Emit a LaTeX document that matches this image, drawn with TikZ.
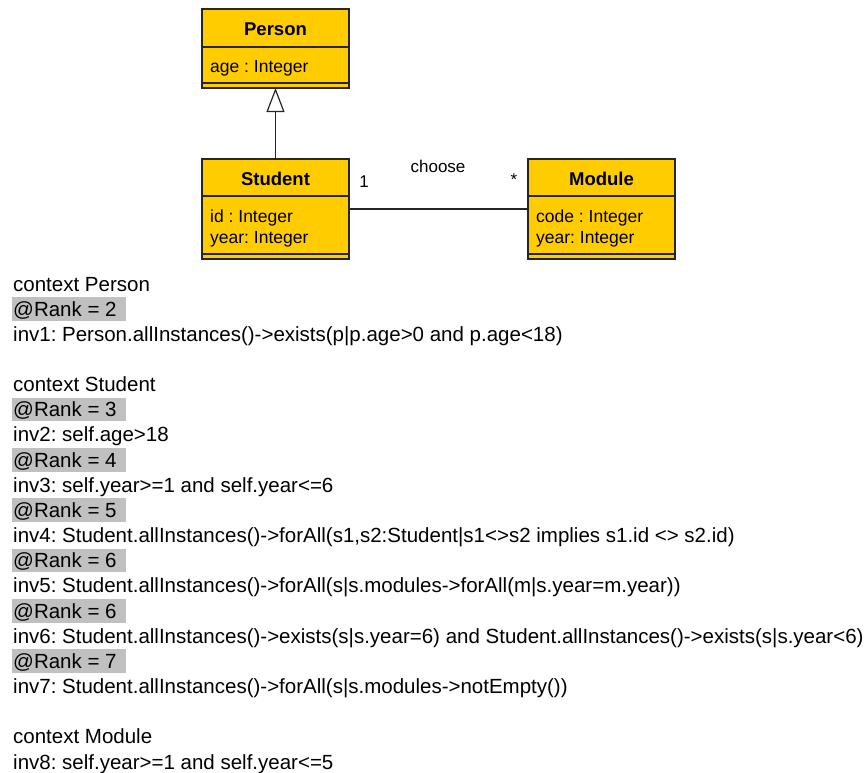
\documentclass[tikz,border=0pt]{standalone}
\usepackage{fontspec}
\setmainfont{Liberation Sans}
\usetikzlibrary{arrows.meta}
\definecolor{umlfill}{HTML}{FFCC00}
\definecolor{hl}{HTML}{C0C0C0}
\frenchspacing
\begin{document}
\begin{tikzpicture}[x=1pt,y=-1pt,
  classbox/.style={draw=black!85,line width=1.2pt,fill=umlfill,minimum width=147pt,inner sep=0pt,outer sep=0pt},
  divider/.style={draw=black!85,line width=1.2pt},
  title/.style={font=\fontsize{18.5}{20}\selectfont\bfseries,inner sep=0pt},
  attr/.style={font=\fontsize{17.5}{20}\selectfont,inner sep=0pt,anchor=west},
  lbl/.style={font=\fontsize{17}{20}\selectfont,inner sep=0pt},
  conn/.style={draw=black!85,line width=1.2pt},
  ocl/.style={font=\fontsize{20.5}{24}\selectfont,inner sep=0pt,anchor=base west},
  rankbg/.style={fill=hl,draw=none}
]
\useasboundingbox (0,0) rectangle (867,772);
% classes
\node[classbox,minimum height=79pt] (person) at (275.5,48.5) {};
\node[classbox,minimum height=100pt] (student) at (275.5,209) {};
\node[classbox,minimum height=100pt] (module) at (601.5,209) {};
\draw[divider] (202,47) -- (349,47);
\draw[divider] (202,83) -- (349,83);
\draw[divider] (202,196) -- (349,196);
\draw[divider] (202,254) -- (349,254);
\draw[divider] (528,196) -- (675,196);
\draw[divider] (528,254) -- (675,254);
\node[title] (tperson) at (275.5,29) {Person};
\node[title] (tstudent) at (275.5,179) {Student};
\node[title] (tmodule) at (601.5,179) {Module};
\node[attr] (a1) at (210,68.5) {age : Integer};
\node[attr] (a2) at (210,217.5) {id : Integer};
\node[attr] (a3) at (210,239.5) {year: Integer};
\node[attr] (a4) at (536,217.5) {code : Integer};
\node[attr] (a5) at (536,239.5) {year: Integer};
% connectors
\draw[conn,-{Triangle[open,length=24pt,width=18pt,line width=1.2pt]}] (student.north) -- (person.south);
\draw[conn] (student.east) -- (module.west);
\node[lbl] (choose) at (438,166) {choose};
\node[lbl] (m1) at (364,182) {1};
\node[lbl] (m2) at (514,180) {*};
% OCL text
\def\rowy#1{291+#1*25.16}
\foreach \r in {1,5,7,9,11,13,15}{
  \fill[rankbg] (12,{284+\r*25.16-12}) rectangle (126,{284+\r*25.16+11.5});
}
\node[ocl] (l0) at (13,{\rowy{0}}) {context Person};
\node[ocl] (l1) at (13,{\rowy{1}}) {@Rank = 2};
\node[ocl] (l2) at (13,{\rowy{2}}) {inv1: Person.allInstances()->exists(p|p.age>0 and p.age<18)};
\node[ocl] (l4) at (13,{\rowy{4}}) {context Student};
\node[ocl] (l5) at (13,{\rowy{5}}) {@Rank = 3};
\node[ocl] (l6) at (13,{\rowy{6}}) {inv2: self.age>18};
\node[ocl] (l7) at (13,{\rowy{7}}) {@Rank = 4};
\node[ocl] (l8) at (13,{\rowy{8}}) {inv3: self.year>=1 and self.year<=6};
\node[ocl] (l9) at (13,{\rowy{9}}) {@Rank = 5};
\node[ocl] (l10) at (13,{\rowy{10}}) {inv4: Student.allInstances()->forAll(s1,s2:Student|s1<>s2 implies s1.id <> s2.id)};
\node[ocl] (l11) at (13,{\rowy{11}}) {@Rank = 6};
\node[ocl] (l12) at (13,{\rowy{12}}) {inv5: Student.allInstances()->forAll(s|s.modules->forAll(m|s.year=m.year))};
\node[ocl] (l13) at (13,{\rowy{13}}) {@Rank = 6};
\node[ocl] (l14) at (13,{\rowy{14}}) {inv6: Student.allInstances()->exists(s|s.year=6) and Student.allInstances()->exists(s|s.year<6)};
\node[ocl] (l15) at (13,{\rowy{15}}) {@Rank = 7};
\node[ocl] (l16) at (13,{\rowy{16}}) {inv7: Student.allInstances()->forAll(s|s.modules->notEmpty())};
\node[ocl] (l18) at (13,{\rowy{18}}) {context Module};
\node[ocl] (l19) at (13,{\rowy{19}}) {inv8: self.year>=1 and self.year<=5};
\end{tikzpicture}
\end{document}
